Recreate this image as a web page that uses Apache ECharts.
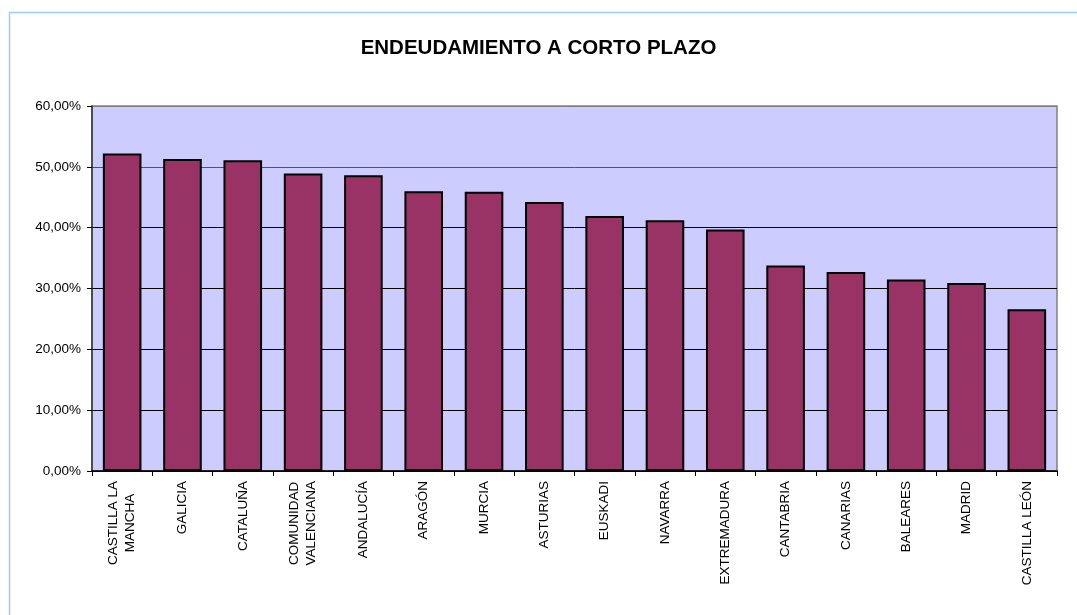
<!DOCTYPE html>
<html>
<head>
<meta charset="utf-8">
<script src="https://cdn.jsdelivr.net/npm/echarts@6/dist/echarts.min.js"></script>
<style>
html,body{margin:0;padding:0;background:#fff;}
#chart{width:1077px;height:615px;}
</style>
</head>
<body>
<div id="chart"></div>
<script>
var titleText = 'ENDEUDAMIENTO A CORTO PLAZO';
var categories = ['CASTILLA LA\nMANCHA','GALICIA','CATALUÑA','COMUNIDAD\nVALENCIANA','ANDALUCÍA','ARAGÓN','MURCIA','ASTURIAS','EUSKADI','NAVARRA','EXTREMADURA','CANTABRIA','CANARIAS','BALEARES','MADRID','CASTILLA LEÓN'];
var values = [52.2, 51.3, 51.1, 48.9, 48.6, 46.0, 45.9, 44.2, 41.9, 41.2, 39.7, 33.8, 32.7, 31.5, 30.9, 26.6];
var yTicks = [0, 10, 20, 30, 40, 50, 60];

var chart = echarts.init(document.getElementById('chart'), null, {renderer: 'canvas'});
var font = 'Liberation Sans, Arial, sans-serif';
chart.setOption({
  animation: false,
  backgroundColor: '#ffffff',
  graphic: [{
    type: 'rect',
    left: 7, top: 10,
    shape: {width: 1100, height: 700},
    style: {fill: 'none', stroke: '#99CCFF', lineWidth: 1.5},
    silent: true, z: -1
  }],
  title: {
    text: titleText,
    left: 'center',
    top: 33,
    textStyle: {fontFamily: font, fontSize: 20.5, fontWeight: 'bold', color: '#000'}
  },
  grid: {
    left: 92, right: 20, top: 106, bottom: 144,
    show: true, backgroundColor: '#CCCCFF', borderColor: '#808080', borderWidth: 1.5
  },
  xAxis: {
    type: 'category',
    data: categories,
    boundaryGap: true,
    axisLine: {lineStyle: {color: '#000', width: 1.5}},
    axisTick: {show: true, length: 5, lineStyle: {color: '#000'}},
    axisLabel: {
      rotate: 90, margin: 10, interval: 0,
      fontFamily: font, fontSize: 13.5, color: '#000', lineHeight: 17,
      formatter: function (v) {
        return v.split('\n').map(function (s) { return '{c|' + s + '}'; }).join('\n');
      },
      rich: {c: {align: 'center', fontFamily: font, fontSize: 13.5, color: '#000', lineHeight: 17}}
    }
  },
  yAxis: {
    type: 'value',
    min: 0, max: 60, interval: 10,
    axisLine: {show: true, lineStyle: {color: '#333', width: 1.5}},
    axisTick: {show: true, length: 5, lineStyle: {color: '#000'}},
    axisLabel: {
      fontFamily: font, fontSize: 13.5, color: '#000', margin: 11,
      formatter: function (v) { return yTicks.indexOf(v) >= 0 ? v.toFixed(2).replace('.', ',') + '%' : ''; }
    },
    splitLine: {show: true, lineStyle: {color: ['#000','#000','#000','#000','#000','#555','#808080'], width: 1}}
  },
  series: [{
    type: 'bar',
    data: values,
    barCategoryGap: '36%',
    itemStyle: {color: '#993366', borderColor: '#000', borderWidth: 2}
  }]
});
</script>
</body>
</html>
